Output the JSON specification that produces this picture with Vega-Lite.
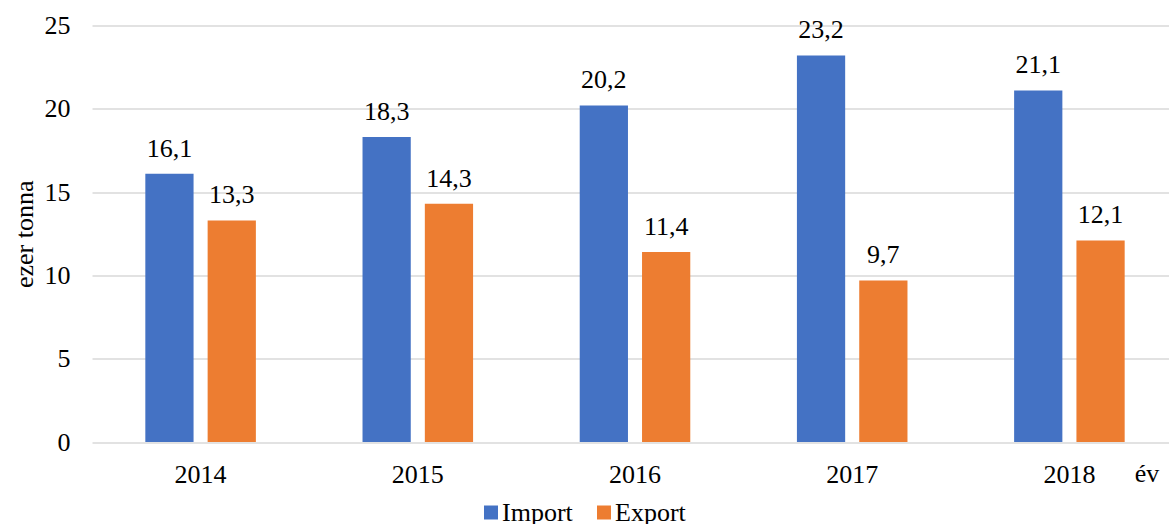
{
  "$schema": "https://vega.github.io/schema/vega-lite/v6.json",
  "autosize": "none",
  "width": 1077,
  "height": 416.5,
  "padding": {"left": 92, "top": 25.5, "right": 0, "bottom": 82},
  "background": "white",
  "config": {
    "locale": {"number": {"decimal": ",", "thousands": " ", "grouping": [3], "currency": ["", ""]}},
    "font": "Liberation Serif",
    "view": {"stroke": null},
    "axis": {"labelFont": "Liberation Serif", "titleFont": "Liberation Serif", "labelColor": "#000", "titleColor": "#000", "labelFontSize": 26, "titleFontSize": 26, "titleFontWeight": "normal"},
    "legend": {"labelFont": "Liberation Serif", "labelFontSize": 26, "labelColor": "#000"}
  },
  "data": {
    "values": [
      {"year": "2014", "type": "Import", "value": 16.1},
      {"year": "2014", "type": "Export", "value": 13.3},
      {"year": "2015", "type": "Import", "value": 18.3},
      {"year": "2015", "type": "Export", "value": 14.3},
      {"year": "2016", "type": "Import", "value": 20.2},
      {"year": "2016", "type": "Export", "value": 11.4},
      {"year": "2017", "type": "Import", "value": 23.2},
      {"year": "2017", "type": "Export", "value": 9.7},
      {"year": "2018", "type": "Import", "value": 21.1},
      {"year": "2018", "type": "Export", "value": 12.1}
    ]
  },
  "encoding": {
    "x": {
      "field": "year", "type": "nominal",
      "scale": {"range": [0, 1086], "paddingInner": 0.491, "paddingOuter": 0.2455},
      "axis": {"labelAngle": 0, "domain": false, "ticks": false, "labelPadding": 19, "title": "év", "titleX": 1054.5, "titleY": 39, "titleBaseline": "alphabetic", "titleAlign": "center"}
    },
    "xOffset": {"field": "type", "type": "nominal", "sort": ["Import", "Export"], "scale": {"paddingInner": 0.2258, "paddingOuter": 0}},
    "y": {
      "field": "value", "type": "quantitative",
      "scale": {"domain": [0, 25]},
      "axis": {"values": [0, 5, 10, 15, 20, 25], "domain": false, "ticks": false, "labelPadding": 22, "gridColor": "#d9d9d9", "gridWidth": 1.3, "title": "ezer tonna", "titleAngle": 270, "titleX": -60, "titleY": 208.25, "titleAlign": "center", "titleBaseline": "alphabetic"}
    }
  },
  "layer": [
    {
      "mark": {"type": "bar"},
      "encoding": {
        "color": {
          "field": "type", "type": "nominal", "sort": ["Import", "Export"],
          "scale": {"domain": ["Import", "Export"], "range": ["#4472C4", "#ED7D31"]},
          "legend": {"title": null, "orient": "none", "direction": "horizontal", "legendX": 386, "legendY": 474, "symbolType": "square", "symbolSize": 196, "symbolStrokeWidth": 0, "labelOffset": -2, "columnPadding": 18, "padding": 0}
        }
      }
    },
    {
      "mark": {"type": "text", "baseline": "alphabetic", "dy": -17, "fontSize": 26, "color": "#000", "font": "Liberation Serif"},
      "encoding": {"text": {"field": "value", "type": "quantitative", "format": ".1f"}}
    }
  ]
}
